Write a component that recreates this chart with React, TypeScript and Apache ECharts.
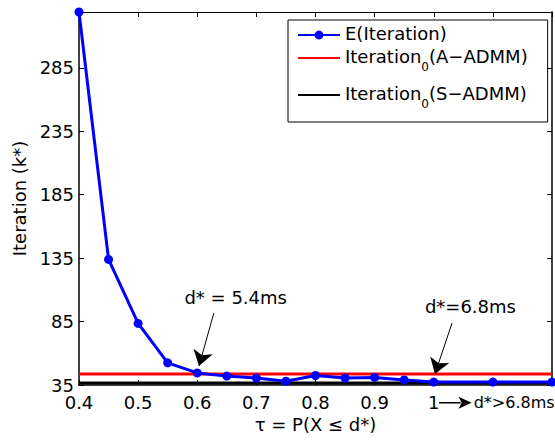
import React, { useEffect, useRef } from "react";
import * as echarts from "echarts";

// ---- data ----
const tauValues = [0.4, 0.45, 0.5, 0.55, 0.6, 0.65, 0.7, 0.75, 0.8, 0.85, 0.9, 0.95, 1.0, 1.1, 1.2];
const expectedIteration = [329, 134, 83.5, 52.5, 44.5, 42, 40.5, 38, 42.5, 40.5, 41, 39, 37.3, 37.3, 37.3];
const iterationA = 43.6; // Iteration_0 (A-ADMM)
const iterationS = 36.6; // Iteration_0 (S-ADMM)
const xRange = [0.4, 1.2];
const yRange = [35, 329];
const yTickStep = 50;
const xTickStep = 0.1;
const lastLabelledTau = 1.0;

const seriesNames = ["E(Iteration)", "Iteration0(A-ADMM)", "Iteration0(S-ADMM)"];
const legendLabels: Record<string, string> = {
  "E(Iteration)": "{m|E(Iteration)}",
  "Iteration0(A-ADMM)": "{m|Iteration}{s|0}{m|(A\u2212ADMM)}",
  "Iteration0(S-ADMM)": "{m|Iteration}{s|0}{m|(S\u2212ADMM)}",
};

// annotations inside the plot (data coordinates)
const annotationTexts = ["d* = 5.4ms", "d*=6.8ms"];
const annotationTextPos = [
  [0.665, 103.6],
  [1.062, 96.5],
];
const arrowStarts = [
  [0.628, 91.7],
  [1.031, 83.9],
];
const arrowEnds = [
  [0.603, 50.0],
  [1.002, 43.7],
];
// annotation below the axis (data coordinates, outside the plotted range)
const outsideText = "d*>6.8ms";
const outsideArrowStart = [1.009, 21.0];
const outsideArrowEnd = [1.064, 21.0];
const outsideTextPos = [1.0675, 21.6];

const FONT = "DejaVu Sans";

export default function App() {
  const ref = useRef<HTMLDivElement>(null);
  useEffect(() => {
    if (!ref.current) return;
    const chart = echarts.init(ref.current, undefined, { renderer: "svg" });
    const axisCommon = {
      type: "value" as const,
      splitLine: { show: false },
      axisLine: { show: true, onZero: false, lineStyle: { color: "#000", width: 1.5 } },
      axisTick: { show: true, inside: true, length: 5, lineStyle: { color: "#000", width: 1 } },
    };
    chart.setOption({
      animation: false,
      backgroundColor: "#fff",
      grid: { left: 79, right: -1, top: 12, bottom: 58, containLabel: false },
      xAxis: [
        {
          ...axisCommon,
          min: xRange[0],
          max: xRange[1],
          interval: xTickStep,
          axisLabel: {
            color: "#000",
            fontFamily: FONT,
            fontSize: 18,
            margin: 8,
            formatter: (v: number) => {
              if (v > lastLabelledTau + 1e-6) return "";
              const r = Math.round(v * 10) / 10;
              return r === 1 ? "1" : r.toFixed(1);
            },
          },
          name: "\u03c4 = P(X \u2264 d*)",
          nameLocation: "middle",
          nameGap: 28,
          nameTextStyle: { color: "#000", fontFamily: FONT, fontSize: 18 },
        },
        {
          ...axisCommon,
          position: "top",
          min: xRange[0],
          max: xRange[1],
          interval: xTickStep,
          axisLine: { show: true, onZero: false, lineStyle: { color: "#000", width: 1 } },
          axisLabel: { show: false },
        },
      ],
      yAxis: [
        {
          ...axisCommon,
          min: yRange[0],
          max: yRange[1],
          interval: yTickStep,
          axisLabel: {
            color: "#000",
            fontFamily: FONT,
            fontSize: 18,
            margin: 5,
            formatter: (v: number) => (v > yRange[1] - yTickStep / 2 ? "" : String(Math.round(v))),
          },
          name: "Iteration (k*)",
          nameLocation: "middle",
          nameGap: 50,
          nameTextStyle: { color: "#000", fontFamily: FONT, fontSize: 18 },
        },
        {
          ...axisCommon,
          position: "right",
          min: yRange[0],
          max: yRange[1],
          interval: yTickStep,
          axisLabel: { show: false },
        },
      ],
      legend: {
        orient: "vertical",
        left: 288,
        top: 20,
        data: [
          { name: seriesNames[0] },
          { name: seriesNames[1], itemStyle: { opacity: 0 } },
          { name: seriesNames[2], itemStyle: { opacity: 0 } },
        ],
        backgroundColor: "#fff",
        borderColor: "#000",
        borderWidth: 1,
        borderRadius: 0,
        padding: [4, 20, 6, 9],
        itemGap: 5,
        itemWidth: 42,
        itemHeight: 11,
        selectedMode: false,
        formatter: (name: string) => legendLabels[name] ?? name,
        textStyle: {
          color: "#000",
          fontFamily: FONT,
          fontSize: 18,
          rich: {
            m: { fontFamily: FONT, fontSize: 18, lineHeight: 22, verticalAlign: "top", color: "#000" },
            s: {
              fontFamily: FONT,
              fontSize: 12,
              lineHeight: 12,
              verticalAlign: "top",
              padding: [14, 0, 6, 0],
              color: "#000",
            },
          },
        },
      },
      series: [
        {
          name: seriesNames[1],
          type: "line",
          data: [
            [xRange[0], iterationA],
            [xRange[1], iterationA],
          ],
          symbol: "none",
          color: "#ff0000",
          lineStyle: { color: "#ff0000", width: 3 },
          z: 2,
          silent: true,
        },
        {
          name: seriesNames[2],
          type: "line",
          data: [
            [xRange[0], iterationS],
            [xRange[1], iterationS],
          ],
          symbol: "none",
          color: "#000000",
          lineStyle: { color: "#000000", width: 3 },
          z: 2,
          silent: true,
          markLine: {
            silent: true,
            animation: false,
            symbol: ["none", "arrow"],
            symbolSize: 15,
            label: { show: false },
            lineStyle: { color: "#000", width: 1, type: "solid" },
            emphasis: { disabled: true },
            data: arrowStarts.map((s, i) => [
              { coord: s, symbol: "none" },
              { coord: arrowEnds[i], symbol: "arrow", symbolSize: 15 },
            ]),
          },
          markPoint: {
            silent: true,
            animation: false,
            symbol: "circle",
            symbolSize: 1,
            itemStyle: { color: "rgba(0,0,0,0)" },
            data: annotationTexts.map((t, i) => ({
              coord: annotationTextPos[i],
              label: {
                show: true,
                position: "inside",
                formatter: t,
                color: "#000",
                fontFamily: FONT,
                fontSize: 18,
                align: "center",
                verticalAlign: "middle",
              },
            })),
          },
        },
        {
          name: seriesNames[0],
          type: "line",
          data: tauValues.map((x, i) => [x, expectedIteration[i]]),
          symbol: "circle",
          symbolSize: 9,
          showAllSymbol: true,
          color: "#0000ff",
          itemStyle: { color: "#0000ff" },
          lineStyle: { color: "#0000ff", width: 3 },
          z: 3,
          silent: true,
          clip: false,
        },
      ],
    });

    // annotation below the x axis: positioned through the chart's own scales
    const p0 = chart.convertToPixel({ gridIndex: 0 }, outsideArrowStart) as number[];
    const p1 = chart.convertToPixel({ gridIndex: 0 }, outsideArrowEnd) as number[];
    const pt = chart.convertToPixel({ gridIndex: 0 }, outsideTextPos) as number[];
    const headLen = 13;
    const headHalf = 6;
    chart.setOption({
      graphic: [
        {
          type: "line",
          silent: true,
          shape: { x1: p0[0], y1: p0[1], x2: p1[0] - headLen + 2, y2: p1[1] },
          style: { stroke: "#000", lineWidth: 1.5 },
        },
        {
          type: "polygon",
          silent: true,
          shape: {
            points: [
              [p1[0], p1[1]],
              [p1[0] - headLen, p1[1] - headHalf],
              [p1[0] - headLen + 3, p1[1]],
              [p1[0] - headLen, p1[1] + headHalf],
            ],
          },
          style: { fill: "#000" },
        },
        {
          type: "text",
          silent: true,
          x: pt[0],
          y: pt[1],
          style: {
            text: outsideText,
            fill: "#000",
            font: `16px "${FONT}"`,
            textAlign: "left",
            textVerticalAlign: "middle",
          },
        },
      ],
    });
    return () => chart.dispose();
  }, []);
  return (
    <div
      ref={ref}
      style={{ position: "fixed", left: 0, top: 0, width: 555, height: 443, background: "#fff" }}
    />
  );
}
